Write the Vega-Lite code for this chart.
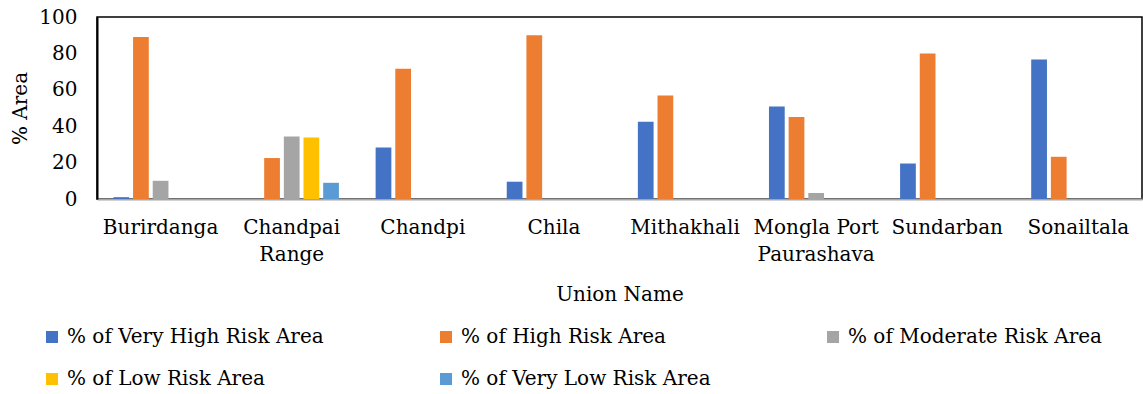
{
  "$schema": "https://vega.github.io/schema/vega-lite/v6.json",
  "width": 1045,
  "height": 182,
  "autosize": "none",
  "padding": {"left": 97, "top": 17, "right": 1, "bottom": 195},
  "background": "white",
  "config": {
    "font": "DejaVu Serif",
    "view": {"stroke": "#000000", "strokeWidth": 1.5},
    "axis": {"grid": false, "ticks": false}
  },
  "data": {
    "values": [
      {"Union": "Burirdanga", "Risk": "% of Very High Risk Area", "Pct": 1},
      {"Union": "Burirdanga", "Risk": "% of High Risk Area", "Pct": 89},
      {"Union": "Burirdanga", "Risk": "% of Moderate Risk Area", "Pct": 10},
      {"Union": "Burirdanga", "Risk": "% of Low Risk Area", "Pct": 0},
      {"Union": "Burirdanga", "Risk": "% of Very Low Risk Area", "Pct": 0},
      {"Union": "Chandpai Range", "Risk": "% of Very High Risk Area", "Pct": 0},
      {"Union": "Chandpai Range", "Risk": "% of High Risk Area", "Pct": 22.5},
      {"Union": "Chandpai Range", "Risk": "% of Moderate Risk Area", "Pct": 34.3},
      {"Union": "Chandpai Range", "Risk": "% of Low Risk Area", "Pct": 33.8},
      {"Union": "Chandpai Range", "Risk": "% of Very Low Risk Area", "Pct": 8.9},
      {"Union": "Chandpi", "Risk": "% of Very High Risk Area", "Pct": 28.3},
      {"Union": "Chandpi", "Risk": "% of High Risk Area", "Pct": 71.5},
      {"Union": "Chandpi", "Risk": "% of Moderate Risk Area", "Pct": 0},
      {"Union": "Chandpi", "Risk": "% of Low Risk Area", "Pct": 0},
      {"Union": "Chandpi", "Risk": "% of Very Low Risk Area", "Pct": 0},
      {"Union": "Chila", "Risk": "% of Very High Risk Area", "Pct": 9.5},
      {"Union": "Chila", "Risk": "% of High Risk Area", "Pct": 90},
      {"Union": "Chila", "Risk": "% of Moderate Risk Area", "Pct": 0},
      {"Union": "Chila", "Risk": "% of Low Risk Area", "Pct": 0},
      {"Union": "Chila", "Risk": "% of Very Low Risk Area", "Pct": 0},
      {"Union": "Mithakhali", "Risk": "% of Very High Risk Area", "Pct": 42.5},
      {"Union": "Mithakhali", "Risk": "% of High Risk Area", "Pct": 56.8},
      {"Union": "Mithakhali", "Risk": "% of Moderate Risk Area", "Pct": 0},
      {"Union": "Mithakhali", "Risk": "% of Low Risk Area", "Pct": 0},
      {"Union": "Mithakhali", "Risk": "% of Very Low Risk Area", "Pct": 0},
      {"Union": "Mongla Port Paurashava", "Risk": "% of Very High Risk Area", "Pct": 50.8},
      {"Union": "Mongla Port Paurashava", "Risk": "% of High Risk Area", "Pct": 45},
      {"Union": "Mongla Port Paurashava", "Risk": "% of Moderate Risk Area", "Pct": 3.3},
      {"Union": "Mongla Port Paurashava", "Risk": "% of Low Risk Area", "Pct": 0},
      {"Union": "Mongla Port Paurashava", "Risk": "% of Very Low Risk Area", "Pct": 0},
      {"Union": "Sundarban", "Risk": "% of Very High Risk Area", "Pct": 19.5},
      {"Union": "Sundarban", "Risk": "% of High Risk Area", "Pct": 80},
      {"Union": "Sundarban", "Risk": "% of Moderate Risk Area", "Pct": 0},
      {"Union": "Sundarban", "Risk": "% of Low Risk Area", "Pct": 0},
      {"Union": "Sundarban", "Risk": "% of Very Low Risk Area", "Pct": 0},
      {"Union": "Sonailtala", "Risk": "% of Very High Risk Area", "Pct": 76.7},
      {"Union": "Sonailtala", "Risk": "% of High Risk Area", "Pct": 23.2},
      {"Union": "Sonailtala", "Risk": "% of Moderate Risk Area", "Pct": 0},
      {"Union": "Sonailtala", "Risk": "% of Low Risk Area", "Pct": 0},
      {"Union": "Sonailtala", "Risk": "% of Very Low Risk Area", "Pct": 0}
    ]
  },
  "mark": {"type": "bar"},
  "encoding": {
    "x": {
      "field": "Union",
      "type": "nominal",
      "sort": null,
      "scale": {"paddingInner": 0.25, "paddingOuter": 0.11},
      "axis": {
        "title": "Union Name",
        "titleFont": "DejaVu Serif",
        "titleFontWeight": "normal",
        "titleColor": "#000000",
        "titleFontSize": 20,
        "titlePadding": 20,
        "labelFont": "DejaVu Serif",
        "labelColor": "#000000",
        "labelFontSize": 20,
        "labelAngle": 0,
        "labelPadding": 18,
        "labelLineHeight": 27,
        "labelLimit": 300,
        "domainColor": "#a6a6a6",
        "domainWidth": 2,
        "labelExpr": "datum.value == 'Chandpai Range' ? ['Chandpai', 'Range'] : datum.value == 'Mongla Port Paurashava' ? ['Mongla Port', 'Paurashava'] : datum.value"
      }
    },
    "xOffset": {
      "field": "Risk",
      "type": "nominal",
      "scale": {
        "domain": ["% of Very High Risk Area", "% of High Risk Area", "% of Moderate Risk Area", "% of Low Risk Area", "% of Very Low Risk Area"],
        "paddingInner": 0.2,
        "paddingOuter": 0.1
      }
    },
    "y": {
      "field": "Pct",
      "type": "quantitative",
      "scale": {"domain": [0, 100]},
      "axis": {
        "title": "% Area",
        "titleFont": "DejaVu Serif",
        "titleFontWeight": "normal",
        "titleColor": "#000000",
        "titleFontSize": 20,
        "titlePadding": 8,
        "labelFont": "DejaVu Serif",
        "labelColor": "#000000",
        "labelFontSize": 20,
        "labelPadding": 20,
        "labelOverlap": false,
        "labelFlush": false,
        "values": [0, 20, 40, 60, 80, 100],
        "domainColor": "#000000",
        "domainWidth": 2
      }
    },
    "color": {
      "field": "Risk",
      "type": "nominal",
      "scale": {
        "domain": ["% of Very High Risk Area", "% of High Risk Area", "% of Moderate Risk Area", "% of Low Risk Area", "% of Very Low Risk Area"],
        "range": ["#4472C4", "#ED7D31", "#A5A5A5", "#FFC000", "#5B9BD5"]
      },
      "legend": {
        "title": null,
        "orient": "none",
        "legendX": -55,
        "legendY": 310,
        "direction": "horizontal",
        "columns": 3,
        "columnPadding": 112,
        "rowPadding": 22,
        "symbolType": "square",
        "symbolSize": 144,
        "symbolStrokeWidth": 0,
        "labelFont": "DejaVu Serif",
        "labelColor": "#000000",
        "labelFontSize": 20,
        "labelOffset": 5,
        "labelLimit": 400
      }
    }
  }
}
